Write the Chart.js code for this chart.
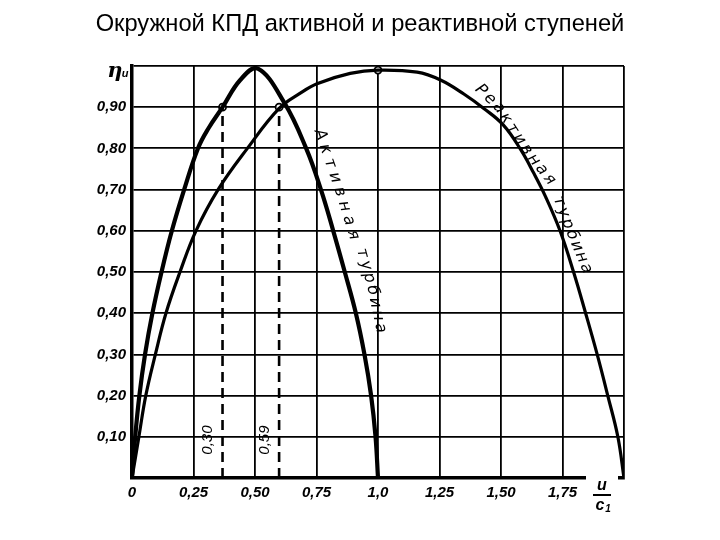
<!DOCTYPE html>
<html>
<head>
<meta charset="utf-8">
<script src="https://cdn.jsdelivr.net/npm/chart.js@4/dist/chart.umd.min.js"></script>
<style>
  html, body { margin: 0; padding: 0; background: #fff; }
  #wrap { width: 720px; height: 540px; }
</style>
</head>
<body>
<div id="wrap"><canvas id="myChart" width="720" height="540"></canvas></div>
<script>
// η_u vs u/c1
const activeU   = [0, 0.013, 0.03, 0.053, 0.083, 0.120, 0.162, 0.212, 0.268, 0.311, 0.368, 0.44, 0.51, 0.619, 0.708, 0.768, 0.818, 0.865, 0.910, 0.945, 0.972, 0.99, 1.0];
const activeEta = [0, 0.10, 0.20, 0.30, 0.40, 0.50, 0.60, 0.70, 0.80, 0.849, 0.90, 0.966, 0.994, 0.911, 0.80, 0.70, 0.60, 0.50, 0.40, 0.30, 0.20, 0.10, 0];

const reactiveU   = [0, 0.028, 0.056, 0.095, 0.138, 0.195, 0.26, 0.35, 0.469, 0.598, 0.684, 0.752, 0.887, 1.0, 1.159, 1.254, 1.349, 1.43, 1.509, 1.579, 1.633, 1.681, 1.74, 1.795, 1.844, 1.891, 1.934, 1.975, 2.0];
const reactiveEta = [0, 0.10, 0.20, 0.30, 0.40, 0.50, 0.60, 0.70, 0.80, 0.897, 0.934, 0.957, 0.982, 0.99, 0.985, 0.966, 0.932, 0.897, 0.857, 0.798, 0.74, 0.683, 0.60, 0.50, 0.40, 0.30, 0.20, 0.10, 0];

const markerU   = [0.368, 0.598, 1.0];
const markerEta = [0.90, 0.90, 0.99];

const dashU   = [0.368, 0.598];
const dashTop = 0.90;
const dashLabels = ['0,30', '0,59'];

const xTickValues = [0, 0.25, 0.5, 0.75, 1.0, 1.25, 1.5, 1.75, 2.0];
const xTickLabels = ['0', '0,25', '0,50', '0,75', '1,0', '1,25', '1,50', '1,75', ''];
const yTickValues = [0, 0.1, 0.2, 0.3, 0.4, 0.5, 0.6, 0.7, 0.8, 0.9, 1.0];
const yTickLabels = ['', '0,10', '0,20', '0,30', '0,40', '0,50', '0,60', '0,70', '0,80', '0,90', ''];

const titleText = 'Окружной КПД активной и реактивной ступеней';

const toPts = (xs, ys) => xs.map((x, i) => ({ x: x, y: ys[i] }));

const tickFont = { family: 'Liberation Sans', size: 15, weight: 'bold', style: 'italic' };

const labelFor = (values, labels) => (v) => {
  const i = values.findIndex(t => Math.abs(t - v) < 1e-6);
  return i < 0 ? '' : labels[i];
};

// lettering that follows the curves: path of letter centres in (u, eta)
const curveTexts = [
  { text: 'Активная',   path: [[0.765, 0.833], [0.838, 0.707], [0.899, 0.590]] },
  { text: 'турбина',    path: [[0.936, 0.546], [0.977, 0.456], [1.009, 0.364]] },
  { text: 'Реактивная', path: [[1.418, 0.941], [1.489, 0.900], [1.555, 0.839], [1.624, 0.779], [1.697, 0.725]] },
  { text: 'турбина',    path: [[1.736, 0.672], [1.785, 0.594], [1.846, 0.509]] }
];

const extras = {
  id: 'extras',
  afterDraw(chart) {
    const { ctx, chartArea, scales: { x, y } } = chart;
    ctx.save();

    // title
    ctx.fillStyle = '#000';
    ctx.font = '23.7px "Liberation Sans"';
    ctx.textAlign = 'center';
    ctx.textBaseline = 'alphabetic';
    ctx.fillText(titleText, 360, 31);

    // gap in the bottom axis line in front of u/c1
    ctx.fillStyle = '#fff';
    ctx.fillRect(586, chartArea.bottom - 3, 32, 6);
    ctx.fillStyle = '#000';

    // letters along a polyline
    ctx.font = 'italic 16px "DejaVu Sans"';
    ctx.textAlign = 'center';
    ctx.textBaseline = 'middle';
    curveTexts.forEach(ct => {
      const p = ct.path.map(([u, e]) => [x.getPixelForValue(u), y.getPixelForValue(e)]);
      const cum = [0];
      for (let i = 1; i < p.length; i++) {
        cum.push(cum[i - 1] + Math.hypot(p[i][0] - p[i - 1][0], p[i][1] - p[i - 1][1]));
      }
      const total = cum[cum.length - 1];
      const at = (d) => {
        d = Math.max(0, Math.min(total, d));
        let k = 1;
        while (k < p.length - 1 && cum[k] < d) k++;
        const t = (d - cum[k - 1]) / (cum[k] - cum[k - 1]);
        return [p[k - 1][0] + t * (p[k][0] - p[k - 1][0]), p[k - 1][1] + t * (p[k][1] - p[k - 1][1])];
      };
      const chars = Array.from(ct.text);
      chars.forEach((c, i) => {
        const d = total * i / (chars.length - 1);
        const [px, py] = at(d);
        const a = at(d - 6), b = at(d + 6);
        ctx.save();
        ctx.translate(px, py);
        ctx.rotate(Math.atan2(b[1] - a[1], b[0] - a[0]));
        ctx.fillText(c, 0, 0);
        ctx.restore();
      });
    });

    // values at the dashed lines
    dashLabels.forEach((t, i) => {
      ctx.save();
      ctx.translate(x.getPixelForValue(dashU[i] - 0.058), y.getPixelForValue(0.092));
      ctx.rotate(-Math.PI / 2);
      ctx.font = 'italic 15px "Liberation Sans"';
      ctx.fillText(t, 0, 0);
      ctx.restore();
    });

    // axis names
    ctx.textBaseline = 'alphabetic';
    ctx.font = 'bold italic 21px "DejaVu Serif"';
    ctx.fillText('η', chartArea.left - 17, chartArea.top + 11);
    ctx.font = 'bold italic 11px "Liberation Sans"';
    ctx.fillText('u', chartArea.left - 7, chartArea.top + 11);

    const cx = 602;
    ctx.font = 'bold italic 16px "Liberation Sans"';
    ctx.fillText('u', cx, 490);
    ctx.fillRect(cx - 9, 494, 18, 2);
    ctx.fillText('c', cx - 2, 510);
    ctx.font = 'bold italic 10px "Liberation Sans"';
    ctx.fillText('1', cx + 6, 512);
    ctx.restore();
  }
};

const datasets = [
  {
    label: 'Активная турбина',
    data: toPts(activeU, activeEta),
    showLine: true, borderColor: '#000', borderWidth: 4.2,
    pointRadius: 0, tension: 0.4
  },
  {
    label: 'Реактивная турбина',
    data: toPts(reactiveU, reactiveEta),
    showLine: true, borderColor: '#000', borderWidth: 3.2,
    pointRadius: 0, tension: 0.4
  }
];
dashU.forEach(u => datasets.push({
  data: [{ x: u, y: 0 }, { x: u, y: dashTop }],
  showLine: true, borderColor: '#000', borderWidth: 2.6,
  borderDash: [10, 6], pointRadius: 0
}));
datasets.push({
  data: toPts(markerU, markerEta),
  showLine: false, pointRadius: 3.5,
  pointBackgroundColor: '#fff', pointBorderColor: '#000', pointBorderWidth: 1.8
});

new Chart(document.getElementById('myChart').getContext('2d'), {
  type: 'scatter',
  data: { datasets },
  options: {
    responsive: false,
    animation: false,
    layout: { padding: { left: 0, right: 96, top: 66, bottom: 0 } },
    plugins: {
      legend: { display: false },
      tooltip: { enabled: false },
      title: { display: false }
    },
    scales: {
      x: {
        type: 'linear', min: 0, max: 2.0,
        afterBuildTicks: s => { s.ticks = xTickValues.map(v => ({ value: v })); },
        afterFit: s => { s.height = 62; },
        ticks: { color: '#000', font: tickFont, padding: 6, maxRotation: 0, callback: labelFor(xTickValues, xTickLabels) },
        grid: { color: '#000', lineWidth: 1.8, drawTicks: false },
        border: { color: '#000', width: 3.5 }
      },
      y: {
        type: 'linear', min: 0, max: 1.0,
        afterBuildTicks: s => { s.ticks = yTickValues.map(v => ({ value: v })); },
        afterFit: s => { s.width = 132; },
        ticks: { color: '#000', font: tickFont, padding: 6, callback: labelFor(yTickValues, yTickLabels) },
        grid: { color: '#000', lineWidth: 1.8, drawTicks: false },
        border: { color: '#000', width: 3.5 }
      }
    }
  },
  plugins: [extras]
});
</script>
</body>
</html>
